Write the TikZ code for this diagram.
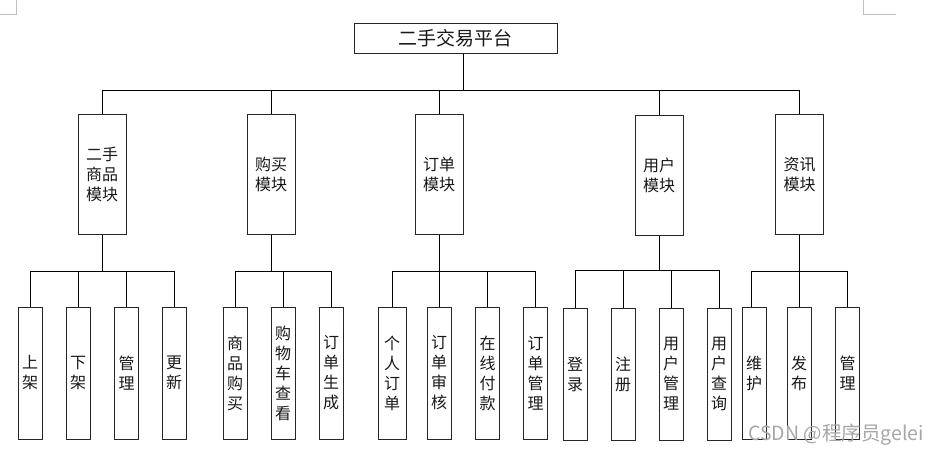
\documentclass[tikz,border=0pt]{standalone}
\usepackage{fontspec}
\setmainfont{Noto Sans CJK SC}
\begin{document}
\begin{tikzpicture}[x=1pt,y=-1pt,
  box/.style={draw=black!85,line width=1pt,fill=white,inner sep=0pt,align=center,text=black!90},
  topbox/.style={box,minimum width=203pt,minimum height=30pt,font=\fontsize{19}{22}\selectfont},
  modbox/.style={box,minimum width=48pt,minimum height=120pt,font=\fontsize{16}{20}\selectfont},
  leaf/.style={box,minimum width=24pt,minimum height=132pt,font=\fontsize{16}{20}\selectfont},
  conn/.style={draw=black,line width=0.8pt},
  corner/.style={draw=black!25,line width=0.6pt}]
\useasboundingbox (0,0) rectangle (938,455);
% page corner marks
\draw[corner] (16,0) -- (16,14) -- (0,14);
\draw[corner] (863,0) -- (863,14) -- (896,14);
% title
\node[topbox] (top) at (455.5,38) {二手交易平台};
% modules
\node[modbox] (m1) at (102,174) {二手\\商品\\模块};
\node[modbox] (m2) at (271,174) {购买\\模块};
\node[modbox] (m3) at (439,174) {订单\\模块};
\node[modbox] (m4) at (659,175) {用户\\模块};
\node[modbox] (m5) at (799.5,174) {资讯\\模块};
% leaves group 1
\node[leaf] (a1) at (30,373) {上\\架};
\node[leaf] (a2) at (78,373) {下\\架};
\node[leaf] (a3) at (126.5,373) {管\\理};
\node[leaf] (a4) at (174,373) {更\\新};
% group 2
\node[leaf] (b1) at (235,373) {商\\品\\购\\买};
\node[leaf] (b2) at (283,373) {购\\物\\车\\查\\看};
\node[leaf] (b3) at (331,373) {订\\单\\生\\成};
% group 3
\node[leaf,minimum width=28pt] (c1) at (392,373.5) {个\\人\\订\\单};
\node[leaf] (c2) at (439,373) {订\\单\\审\\核};
\node[leaf] (c3) at (487.5,373) {在\\线\\付\\款};
\node[leaf] (c4) at (535.5,373) {订\\单\\管\\理};
% group 4
\node[leaf] (d1) at (575,374) {登\\录};
\node[leaf] (d2) at (623,374) {注\\册};
\node[leaf] (d3) at (671,374) {用\\户\\管\\理};
\node[leaf] (d4) at (719,374) {用\\户\\查\\询};
% group 5
\node[leaf] (e1) at (754,373) {维\\护};
\node[leaf] (e2) at (799,373) {发\\布};
\node[leaf] (e3) at (847.5,373) {管\\理};
% bus coordinates
\coordinate (busT) at (463,90);
\coordinate (bus1) at (0,271);
\coordinate (bus4) at (0,270);
% top level connectors
\draw[conn] ([xshift=7.5pt]top.south) -- (busT);
\draw[conn] (m1.north) -- (m1.north |- busT) -- (m5.north |- busT) -- (m5.north);
\foreach \m in {m2,m3,m4} \draw[conn] (\m.north) -- (\m.north |- busT);
% group connectors
\draw[conn] (m1.south) -- (m1.south |- bus1);
\draw[conn] (a1.north) -- (a1.north |- bus1) -- (a4.north |- bus1) -- (a4.north);
\foreach \n in {a2,a3} \draw[conn] (\n.north) -- (\n.north |- bus1);
\draw[conn] (m2.south) -- (m2.south |- bus1);
\draw[conn] (b1.north) -- (b1.north |- bus1) -- (b3.north |- bus1) -- (b3.north);
\draw[conn] (b2.north) -- (b2.north |- bus1);
\draw[conn] (m3.south) -- (m3.south |- bus1);
\draw[conn] (c1.north) -- (c1.north |- bus1) -- (c4.north |- bus1) -- (c4.north);
\foreach \n in {c2,c3} \draw[conn] (\n.north) -- (\n.north |- bus1);
\draw[conn] (m4.south) -- (m4.south |- bus4);
\draw[conn] (d1.north) -- (d1.north |- bus4) -- (d4.north |- bus4) -- (d4.north);
\foreach \n in {d2,d3} \draw[conn] (\n.north) -- (\n.north |- bus4);
\draw[conn] (m5.south) -- (m5.south |- bus1);
\draw[conn] ([xshift=-3pt]e1.north) -- ([xshift=-3pt]e1.north |- bus1) -- (e3.north |- bus1) -- (e3.north);
\draw[conn] (e2.north) -- (e2.north |- bus1);
% watermark
\node[anchor=east,text=black!35,font=\fontsize{19.5}{21}\selectfont,inner sep=0pt] (wm) at (924,435) {CSDN @程序员gelei};
\end{tikzpicture}
\end{document}
